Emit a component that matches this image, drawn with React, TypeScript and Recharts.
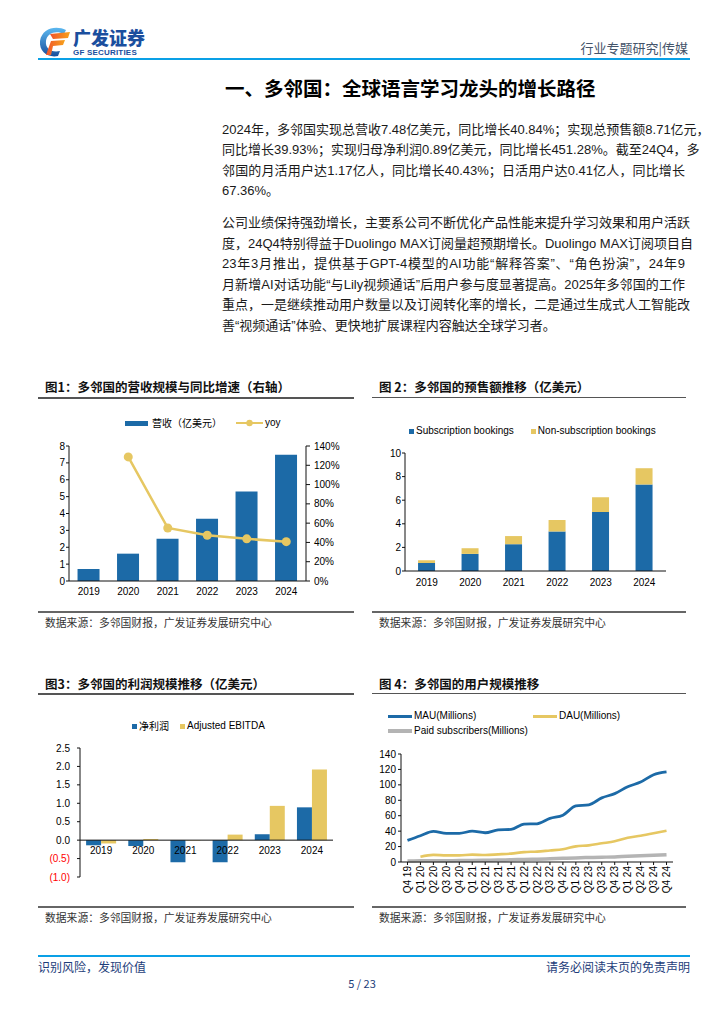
import React from 'react';
import { ComposedChart, BarChart, LineChart, Bar, Line, XAxis, YAxis, ReferenceLine } from 'recharts';

// ---------- data ----------
const years = ['2019', '2020', '2021', '2022', '2023', '2024'];
const revenue = [0.71, 1.62, 2.51, 3.69, 5.31, 7.48];
const revenueYoy = [null, 1.287, 0.55, 0.474, 0.437, 0.408];
const revenueTicks = [0, 1, 2, 3, 4, 5, 6, 7, 8];
const yoyTicks = [0, 0.2, 0.4, 0.6, 0.8, 1.0, 1.2, 1.4];

const subscriptionBookings = [0.68, 1.45, 2.27, 3.35, 5.0, 7.33];
const nonSubscriptionBookings = [0.23, 0.48, 0.69, 0.97, 1.25, 1.38];
const bookingTicks = [0, 2, 4, 6, 8, 10];

const netProfit = [-0.14, -0.16, -0.6, -0.6, 0.16, 0.89];
const adjustedEbitda = [-0.09, 0.03, -0.01, 0.15, 0.93, 1.92];
const profitTicks = [-1, -0.5, 0, 0.5, 1, 1.5, 2, 2.5];

const quarters = ['Q4 19', 'Q1 20', 'Q2 20', 'Q3 20', 'Q4 20', 'Q1 21', 'Q2 21', 'Q3 21', 'Q4 21', 'Q1 22', 'Q2 22', 'Q3 22', 'Q4 22', 'Q1 23', 'Q2 23', 'Q3 23', 'Q4 23', 'Q1 24', 'Q2 24', 'Q3 24', 'Q4 24'];
const mau = [28.0, 34.0, 39.6, 37.2, 37.1, 40.0, 37.9, 41.6, 42.2, 49.2, 49.5, 56.5, 60.7, 72.6, 74.1, 83.1, 88.6, 97.6, 103.6, 113.1, 116.7];
const dau = [null, 6.8, 9.3, 8.6, 8.6, 9.5, 9.0, 9.9, 10.9, 12.8, 13.5, 15.0, 16.5, 20.3, 21.5, 24.2, 26.9, 31.4, 34.1, 37.2, 40.5];
const paidSubs = [1.4, 1.5, 1.6, 1.7, 1.8, 2.0, 2.2, 2.5, 2.9, 3.3, 3.7, 4.2, 4.8, 5.3, 5.8, 6.2, 6.6, 7.4, 8.0, 8.6, 9.5];
const userTicks = [0, 20, 40, 60, 80, 100, 120, 140];

// ---------- styles ----------
const FONT = '"Liberation Sans", Arial, "Noto Sans CJK SC", sans-serif';
const CJK = '"Noto Sans CJK SC", "Liberation Sans", sans-serif';
const BLUE = '#1c6aa7';
const YELLOW = '#e6c762';
const GRAY = '#b4b4b4';
const AXIS = '#111';
const HEADER_BLUE = '#0aa0e6';

const para1 = [
  '2024年，多邻国实现总营收7.48亿美元，同比增长40.84%；实现总预售额8.71亿元，',
  '同比增长39.93%；实现归母净利润0.89亿美元，同比增长451.28%。截至24Q4，多',
  '邻国的月活用户达1.17亿人，同比增长40.43%；日活用户达0.41亿人，同比增长',
  '67.36%。',
];
const para2 = [
  '公司业绩保持强劲增长，主要系公司不断优化产品性能来提升学习效果和用户活跃',
  '度，24Q4特别得益于Duolingo MAX订阅量超预期增长。Duolingo MAX订阅项目自',
  '23年3月推出，提供基于GPT-4模型的AI功能“解释答案”、“角色扮演”，24年9',
  '月新增AI对话功能“与Lily视频通话”后用户参与度显著提高。2025年多邻国的工作',
  '重点，一是继续推动用户数量以及订阅转化率的增长，二是通过生成式人工智能改',
  '善“视频通话”体验、更快地扩展课程内容触达全球学习者。',
];
const para1Centers = [129.5, 150, 170.5, 191];
const para2Centers = [223, 243.5, 264, 284.5, 305, 325.5];

const tickStyle = { fontSize: 10, fill: '#000', fontFamily: FONT };

// chart 3 geometry (for placing category labels on the zero line)
const C3_H = 175;
const C3_TOP = 36;
const C3_XH = 10;
const C3_PLOT_H = C3_H - C3_TOP - C3_XH;
const C3_MIN = -1;
const C3_MAX = 2.5;
const C3_ZERO_OFFSET = (C3_PLOT_H * (0 - C3_MIN)) / (C3_MAX - C3_MIN);

// chart 4 geometry
const C4_W = 318;
const C4_YW = 46;
const C4_PAD = (C4_W - C4_YW) / quarters.length / 2;

function TextLine({ text, center, justify }: { text: string; center: number; justify: boolean }) {
  return (
    <div
      style={{
        position: 'absolute',
        left: 222,
        top: center - 9,
        width: 463,
        height: 18,
        lineHeight: '18px',
        fontSize: 13,
        fontFamily: '"Liberation Sans", "Noto Sans CJK SC", sans-serif',
        color: '#1a1a1a',
        whiteSpace: 'nowrap',
        textAlign: justify ? 'justify' : 'left',
        textAlignLast: justify ? 'justify' : 'left',
      } as React.CSSProperties}
    >
      {text}
    </div>
  );
}

function Figure({ left, right, title, titleCenter, ruleTop, srcRuleTop, srcCenter }: any) {
  return (
    <>
      <div style={{ position: 'absolute', left: left + 7, top: titleCenter - 9, height: 18, lineHeight: '18px', fontSize: 12.5, fontWeight: 700, fontFamily: CJK, color: '#111', whiteSpace: 'nowrap' }}>{title}</div>
      <div style={{ position: 'absolute', left, top: ruleTop, width: right - left, height: 1.5, background: '#555' }} />
      <div style={{ position: 'absolute', left, top: srcRuleTop, width: right - left, height: 1.5, background: '#666' }} />
      <div style={{ position: 'absolute', left: left + 7, top: srcCenter - 8, height: 16, lineHeight: '16px', fontSize: 10.8, fontFamily: CJK, color: '#333', whiteSpace: 'nowrap' }}>数据来源：多邻国财报，广发证券发展研究中心</div>
    </>
  );
}

const Swatch = ({ w, h, color }: { w: number; h: number; color: string }) => (
  <span style={{ display: 'inline-block', width: w, height: h, background: color, marginRight: 2 }} />
);

const legendText: React.CSSProperties = { fontSize: 10, fontFamily: FONT, color: '#000', whiteSpace: 'nowrap', lineHeight: '12px' };

const RotTick = (props: any) => {
  const { x, y, payload } = props;
  return (
    <text x={x} y={y} transform={`rotate(-90, ${x}, ${y})`} textAnchor="end" dy="0.35em" fontSize={10} fill="#000" fontFamily={FONT}>
      {payload.value}
    </text>
  );
};

const ZeroTick = (props: any) => {
  const { x, y, payload } = props;
  return (
    <text x={x} y={y - C3_ZERO_OFFSET} textAnchor="middle" dy="0.71em" fontSize={10} fill="#000" fontFamily={FONT}>
      {payload.value}
    </text>
  );
};

const ProfitYTick = (props: any) => {
  const { x, y, payload } = props;
  const v = Number(payload.value);
  const label = v < 0 ? `(${Math.abs(v).toFixed(1)})` : v.toFixed(1);
  return (
    <text x={x} y={y} textAnchor="end" dy="0.355em" fontSize={10} fill={v < 0 ? '#ff0000' : '#000'} fontFamily={FONT}>
      {label}
    </text>
  );
};

function Logo() {
  return (
    <div style={{ position: 'absolute', left: 36, top: 24 }}>
      <svg width={40} height={36} viewBox="0 0 40 36">
        <defs>
          <linearGradient id="lg" x1="0" y1="0" x2="0" y2="1">
            <stop offset="0" stopColor="#5bb8f0" />
            <stop offset="1" stopColor="#1a4f9c" />
          </linearGradient>
          <linearGradient id="rg" x1="0" y1="0" x2="1" y2="0">
            <stop offset="0" stopColor="#f0532b" />
            <stop offset="1" stopColor="#f7a21b" />
          </linearGradient>
        </defs>
        <path d="M30 6 C20 1 6 4 4 17 C3 28 12 34 22 32 L24 27 C15 29 9 24 10 17 C11 9 20 6 28 10 Z" fill="url(#lg)" />
        <path d="M14 10 L34 8 L32 14 L17 15 Z" fill="url(#rg)" />
        <path d="M15 17 L29 16 L27 21 L17 22 L15 31 L10 31 Z" fill="url(#rg)" />
      </svg>
      <div style={{ position: 'absolute', left: 37, top: 2, fontSize: 18, fontWeight: 900, fontFamily: CJK, color: '#1b4f9e', whiteSpace: 'nowrap', lineHeight: '22px', letterSpacing: 0 }}>广发证券</div>
      <div style={{ position: 'absolute', left: 37, top: 24, fontSize: 8, fontWeight: 700, fontFamily: FONT, color: '#1b4f9e', whiteSpace: 'nowrap', lineHeight: '10px', letterSpacing: 0.2 }}>GF SECURITIES</div>
    </div>
  );
}

export default function App() {
  const revData = years.map((y, i) => ({ year: y, revenue: revenue[i], yoy: revenueYoy[i] }));
  const bookData = years.map((y, i) => ({ year: y, sub: subscriptionBookings[i], nonSub: nonSubscriptionBookings[i] }));
  const profitData = years.map((y, i) => ({ year: y, net: netProfit[i], ebitda: adjustedEbitda[i] }));
  const userData = quarters.map((q, i) => ({ q, mau: mau[i], dau: dau[i], paid: paidSubs[i] }));
  const yearBounds = years.map((_, i) => i).concat([years.length]);

  return (
    <div style={{ position: 'absolute', left: 0, top: 0, width: 724, height: 1024, background: '#fff', overflow: 'hidden' }}>
      {/* header */}
      <Logo />
      <div style={{ position: 'absolute', right: 36, top: 40, fontSize: 13, fontFamily: CJK, color: '#44546a', whiteSpace: 'nowrap', lineHeight: '16px' }}>行业专题研究|传媒</div>
      <div style={{ position: 'absolute', left: 38, top: 58, width: 652, height: 2, background: HEADER_BLUE }} />

      <div style={{ position: 'absolute', left: 225, top: 76, fontSize: 19.5, fontWeight: 700, fontFamily: CJK, color: '#000', whiteSpace: 'nowrap', lineHeight: '24px' }}>一、多邻国：全球语言学习龙头的增长路径</div>

      {para1.map((t, i) => (
        <TextLine key={'a' + i} text={t} center={para1Centers[i]} justify={i < para1.length - 1} />
      ))}
      {para2.map((t, i) => (
        <TextLine key={'b' + i} text={t} center={para2Centers[i]} justify={i < para2.length - 1} />
      ))}

      {/* figure frames */}
      <Figure left={38} right={354} title="图1：多邻国的营收规模与同比增速（右轴）" titleCenter={387} ruleTop={397} srcRuleTop={611} srcCenter={622} />
      <Figure left={372} right={686} title="图 2：多邻国的预售额推移（亿美元）" titleCenter={387} ruleTop={396.5} srcRuleTop={611} srcCenter={622} />
      <Figure left={38} right={354} title="图3：多邻国的利润规模推移（亿美元）" titleCenter={684} ruleTop={693} srcRuleTop={906} srcCenter={917} />
      <Figure left={372} right={686} title="图 4：多邻国的用户规模推移" titleCenter={684} ruleTop={692.5} srcRuleTop={906} srcCenter={917} />

      {/* chart 1 legend */}
      <div style={{ position: 'absolute', left: 125, top: 417, display: 'flex', alignItems: 'center', height: 12 }}>
        <Swatch w={23} h={5} color={BLUE} />
        <span style={{ ...legendText, fontFamily: CJK, marginLeft: 2 }}>营收（亿美元）</span>
        <svg width={28} height={12} style={{ marginLeft: 14 }}>
          <line x1={0} y1={6} x2={27} y2={6} stroke={YELLOW} strokeWidth={2} />
          <circle cx={13.5} cy={6} r={3.2} fill={YELLOW} />
        </svg>
        <span style={{ ...legendText, marginLeft: 1 }}>yoy</span>
      </div>

      {/* chart 1 */}
      <div style={{ position: 'absolute', left: 20, top: 410 }}>
        <ComposedChart width={326} height={196} data={revData} margin={{ top: 36, right: 0, bottom: 0, left: 0 }} barCategoryGap="21.6%">
          <XAxis xAxisId="b" type="number" domain={[0, 6]} allowDataOverflow ticks={yearBounds} height={0} tick={false} axisLine={false} tickLine={{ stroke: AXIS }} tickSize={4} />
          <XAxis dataKey="year" height={25} tick={tickStyle} tickLine={false} tickSize={4} tickMargin={3} axisLine={{ stroke: AXIS }} interval={0} />
          <YAxis yAxisId="l" domain={[0, 8]} ticks={revenueTicks} interval={0} width={49} tick={tickStyle} tickSize={3} tickMargin={1} axisLine={{ stroke: AXIS }} tickLine={{ stroke: AXIS }} />
          <YAxis yAxisId="r" orientation="right" domain={[0, 1.4]} ticks={yoyTicks} interval={0} width={40} tick={tickStyle} tickSize={4} tickMargin={4} axisLine={{ stroke: AXIS }} tickLine={{ stroke: AXIS }} tickFormatter={(v: number) => `${Math.round(v * 100)}%`} />
          <Bar yAxisId="l" dataKey="revenue" fill={BLUE} isAnimationActive={false} />
          <Line yAxisId="r" dataKey="yoy" stroke={YELLOW} strokeWidth={2.5} dot={{ r: 4.5, fill: YELLOW, stroke: YELLOW, strokeWidth: 0 }} isAnimationActive={false} />
        </ComposedChart>
      </div>

      {/* chart 2 legend */}
      <div style={{ position: 'absolute', left: 409, top: 425, display: 'flex', alignItems: 'center', height: 12 }}>
        <Swatch w={5} h={5} color={BLUE} />
        <span style={legendText}>Subscription bookings</span>
        <span style={{ width: 17 }} />
        <Swatch w={5} h={5} color={YELLOW} />
        <span style={legendText}>Non-subscription bookings</span>
      </div>

      {/* chart 2 */}
      <div style={{ position: 'absolute', left: 355, top: 420 }}>
        <BarChart width={311} height={176} data={bookData} margin={{ top: 33, right: 0, bottom: 0, left: 0 }} barCategoryGap="30%">
          <XAxis xAxisId="b" type="number" domain={[0, 6]} allowDataOverflow ticks={yearBounds} height={0} tick={false} axisLine={false} tickLine={{ stroke: AXIS }} tickSize={4} />
          <XAxis dataKey="year" height={25} tick={tickStyle} tickLine={false} tickSize={4} tickMargin={4} axisLine={{ stroke: AXIS }} interval={0} />
          <YAxis domain={[0, 10]} ticks={bookingTicks} interval={0} width={50} tick={tickStyle} tickSize={3} tickMargin={1} axisLine={{ stroke: AXIS }} tickLine={{ stroke: AXIS }} />
          <Bar dataKey="sub" stackId="s" fill={BLUE} isAnimationActive={false} />
          <Bar dataKey="nonSub" stackId="s" fill={YELLOW} isAnimationActive={false} />
        </BarChart>
      </div>

      {/* chart 3 legend */}
      <div style={{ position: 'absolute', left: 132, top: 720, display: 'flex', alignItems: 'center', height: 12 }}>
        <Swatch w={5} h={5} color={BLUE} />
        <span style={{ ...legendText, fontFamily: CJK }}>净利润</span>
        <span style={{ width: 11 }} />
        <Swatch w={5} h={5} color={YELLOW} />
        <span style={legendText}>Adjusted EBITDA</span>
      </div>

      {/* chart 3 */}
      <div style={{ position: 'absolute', left: 30, top: 712 }}>
        <BarChart width={303} height={C3_H} data={profitData} margin={{ top: C3_TOP, right: 0, bottom: 0, left: 0 }} barCategoryGap="14.5%" barGap={0}>
          <XAxis dataKey="year" height={C3_XH} tick={<ZeroTick />} tickLine={false} axisLine={false} tickSize={0} tickMargin={7} interval={0} />
          <YAxis domain={[C3_MIN, C3_MAX]} ticks={profitTicks} interval={0} width={50} tick={<ProfitYTick />} tickSize={3} tickMargin={7} axisLine={{ stroke: AXIS }} tickLine={{ stroke: AXIS }} />
          <Bar dataKey="net" fill={BLUE} isAnimationActive={false} />
          <Bar dataKey="ebitda" fill={YELLOW} isAnimationActive={false} />
          <ReferenceLine y={0} stroke={AXIS} strokeWidth={1} />
        </BarChart>
      </div>

      {/* chart 4 legend */}
      <div style={{ position: 'absolute', left: 388, top: 710, width: 300, height: 30 }}>
        <div style={{ position: 'absolute', left: 0, top: 0, display: 'flex', alignItems: 'center', height: 12 }}>
          <Swatch w={24} h={3} color={BLUE} />
          <span style={legendText}>MAU(Millions)</span>
        </div>
        <div style={{ position: 'absolute', left: 145, top: 0, display: 'flex', alignItems: 'center', height: 12 }}>
          <Swatch w={24} h={3} color={YELLOW} />
          <span style={legendText}>DAU(Millions)</span>
        </div>
        <div style={{ position: 'absolute', left: 0, top: 15, display: 'flex', alignItems: 'center', height: 12 }}>
          <Swatch w={24} h={3.5} color={GRAY} />
          <span style={legendText}>Paid subscribers(Millions)</span>
        </div>
      </div>

      {/* chart 4 */}
      <div style={{ position: 'absolute', left: 355, top: 700 }}>
        <LineChart width={C4_W} height={202} data={userData} margin={{ top: 54, right: 0, bottom: 0, left: 0 }}>
          <XAxis dataKey="q" height={40} padding={{ left: C4_PAD, right: C4_PAD }} tick={<RotTick />} tickLine={{ stroke: AXIS }} tickSize={3} tickMargin={1} axisLine={{ stroke: AXIS }} interval={0} />
          <YAxis domain={[0, 140]} ticks={userTicks} interval={0} width={C4_YW} tick={tickStyle} tickSize={3} tickMargin={2} axisLine={{ stroke: AXIS }} tickLine={{ stroke: AXIS }} />
          <Line dataKey="paid" type="monotone" stroke={GRAY} strokeWidth={3.5} dot={false} isAnimationActive={false} />
          <Line dataKey="dau" type="monotone" stroke={YELLOW} strokeWidth={2.6} dot={false} isAnimationActive={false} />
          <Line dataKey="mau" type="monotone" stroke={BLUE} strokeWidth={2.8} dot={false} isAnimationActive={false} />
        </LineChart>
      </div>

      {/* footer */}
      <div style={{ position: 'absolute', left: 38, top: 955, width: 652, height: 2, background: HEADER_BLUE }} />
      <div style={{ position: 'absolute', left: 38, top: 959, fontSize: 12, fontFamily: CJK, color: '#1d3d7a', whiteSpace: 'nowrap', lineHeight: '16px' }}>识别风险，发现价值</div>
      <div style={{ position: 'absolute', right: 34, top: 959, fontSize: 12, fontFamily: CJK, color: '#1d3d7a', whiteSpace: 'nowrap', lineHeight: '16px' }}>请务必阅读末页的免责声明</div>
      <div style={{ position: 'absolute', left: 0, width: 724, textAlign: 'center', top: 976, fontSize: 11, fontFamily: CJK, color: '#1d3d7a', lineHeight: '14px' }}>5 / 23</div>
    </div>
  );
}
